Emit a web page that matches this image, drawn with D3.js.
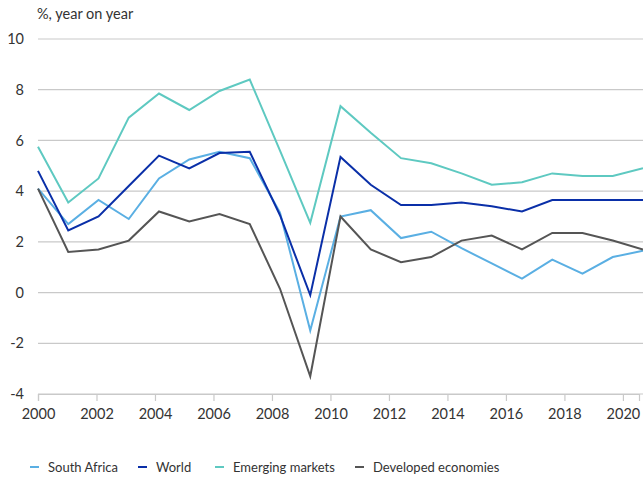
<!DOCTYPE html>
<html>
<head>
<meta charset="utf-8">
<script src="https://cdn.jsdelivr.net/npm/d3@7"></script>
<style>
  body { margin: 0; background: #fff; }
  svg { display: block; font-family: Lato, "Open Sans", sans-serif; }
  .grid line { stroke: #c9c9c9; stroke-width: 1.2; }
  .lbl { fill: #333; font-size: 14px; }
</style>
</head>
<body>
<div id="chart"></div>
<script>
  // chart values
  var years = d3.range(2000, 2021);
  var southAfrica = [4.1, 2.7, 3.65, 2.9, 4.5, 5.25, 5.55, 5.3, 3.15, -1.5, 3.0, 3.25, 2.15, 2.4, 1.75, 1.15, 0.55, 1.3, 0.75, 1.4, 1.65];
  var world = [4.8, 2.45, 3.0, 4.2, 5.4, 4.9, 5.5, 5.55, 3.05, -0.1, 5.35, 4.25, 3.45, 3.45, 3.55, 3.4, 3.2, 3.65, 3.65, 3.65, 3.65];
  var emerging = [5.75, 3.55, 4.5, 6.9, 7.85, 7.2, 7.95, 8.4, 5.6, 2.75, 7.35, 6.3, 5.3, 5.1, 4.7, 4.25, 4.35, 4.7, 4.6, 4.6, 4.9];
  var developed = [4.1, 1.6, 1.7, 2.05, 3.2, 2.8, 3.1, 2.7, 0.15, -3.3, 3.0, 1.7, 1.2, 1.4, 2.05, 2.25, 1.7, 2.35, 2.35, 2.05, 1.7];
  var yTicks = [-4, -2, 0, 2, 4, 6, 8, 10];
  var xTicks = d3.range(2000, 2021, 2);

  var seriesNames = ['South Africa', 'World', 'Emerging markets', 'Developed economies'];
  var seriesColors = ['#5aafe3', '#0a2fa8', '#5ec9c1', '#555555'];
  var seriesValues = [southAfrica, world, emerging, developed];

  var W = 643, H = 479;
  var plotL = 38, plotR = 643, plotT = 39, plotB = 394;

  var svg = d3.select('#chart').append('svg')
    .attr('width', W).attr('height', H);

  var y = d3.scaleLinear().domain([-4, 10]).range([plotB, plotT]);
  // data points are spread evenly over the full plot width
  var xData = d3.scalePoint().domain(years).range([plotL, plotR]);
  // the year labels sit on their own slightly tighter scale
  var xAxisScale = d3.scaleLinear().domain([2000, 2020.55]).range([plotL, 639]);

  // gridlines
  svg.append('g').attr('class', 'grid')
    .selectAll('line').data(yTicks).enter().append('line')
    .attr('x1', plotL).attr('x2', plotR)
    .attr('y1', function(d) { return y(d); })
    .attr('y2', function(d) { return y(d); });

  // y labels
  svg.append('g').selectAll('text').data(yTicks).enter().append('text')
    .attr('class', 'lbl')
    .attr('x', 24).attr('y', function(d) { return y(d); })
    .attr('dy', '0.35em').attr('text-anchor', 'end')
    .style('font-size', '14.5px')
    .text(function(d) { return d; });

  svg.append('text').attr('class', 'lbl')
    .attr('x', 37).attr('y', 19).style('font-size', '14.5px')
    .text('%, year on year');

  // x axis
  var xAxis = d3.axisBottom(xAxisScale)
    .tickValues(xTicks)
    .tickFormat(d3.format('d'))
    .tickSize(7).tickSizeOuter(7).tickPadding(8);

  var gx = svg.append('g').attr('transform', 'translate(0,' + plotB + ')').call(xAxis);
  gx.select('.domain').attr('stroke', '#c9c9c9').attr('stroke-width', 1.2);
  gx.selectAll('.tick line').attr('stroke', '#c9c9c9').attr('stroke-width', 1.2);
  gx.selectAll('.tick text').attr('fill', '#333').style('font-size', '14.5px')
    .style('font-family', 'Lato, "Open Sans", sans-serif');

  // lines
  var line = d3.line()
    .x(function(d, i) { return xData(years[i]); })
    .y(function(d) { return y(d); });

  svg.append('g').selectAll('path').data(seriesValues).enter().append('path')
    .attr('d', line)
    .attr('fill', 'none')
    .attr('stroke', function(d, i) { return seriesColors[i]; })
    .attr('stroke-width', 2)
    .attr('stroke-linejoin', 'miter');

  // legend
  var legendX = [30, 138, 215, 355];
  var lg = svg.append('g').selectAll('g').data(seriesNames).enter().append('g')
    .attr('transform', function(d, i) { return 'translate(' + legendX[i] + ',467)'; });
  lg.append('line').attr('x1', 0).attr('x2', 9).attr('y1', 0).attr('y2', 0)
    .attr('stroke', function(d, i) { return seriesColors[i]; })
    .attr('stroke-width', 2);
  lg.append('text').attr('class', 'lbl').attr('x', 18).attr('dy', '0.35em')
    .style('font-size', '13px')
    .text(function(d) { return d; });
</script>
</body>
</html>
